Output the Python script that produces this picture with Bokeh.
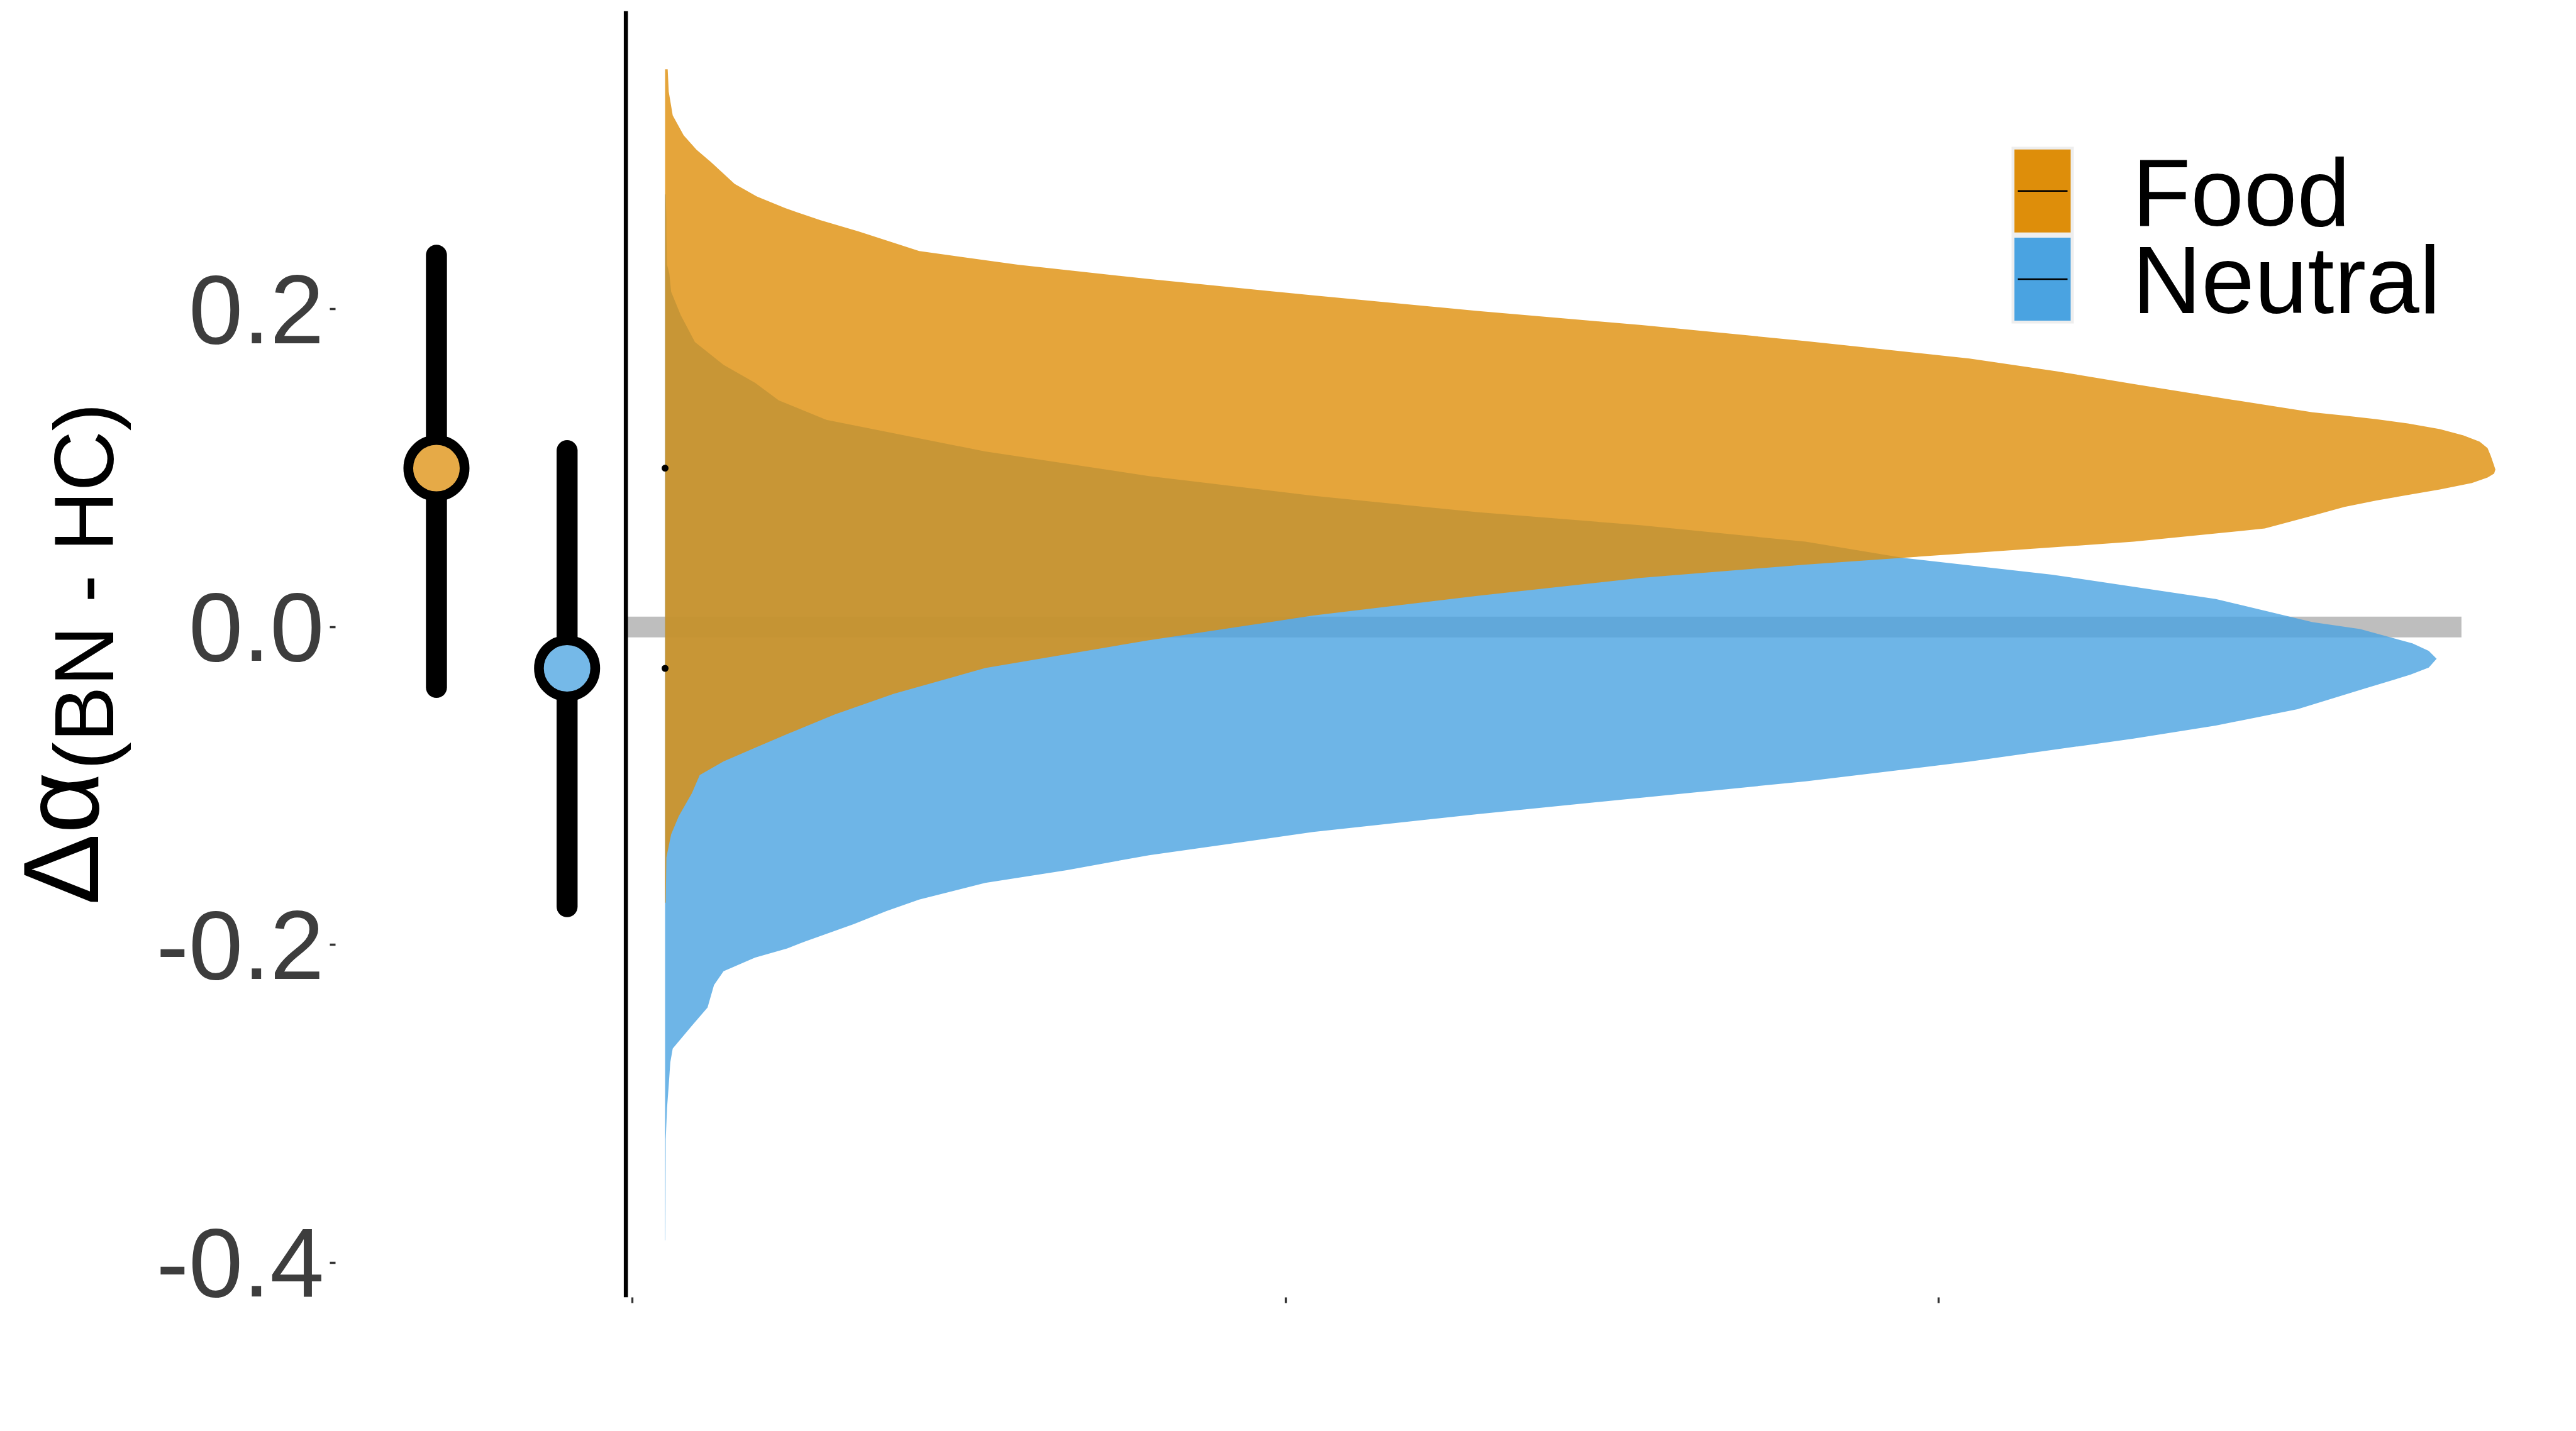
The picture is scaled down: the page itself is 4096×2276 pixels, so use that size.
import numpy as np
from bokeh.plotting import figure
from bokeh.layouts import row
from bokeh.models import (Range1d, FixedTicker, PrintfTickFormatter, CustomJSTickFormatter,
                          Span, Label, BoxAnnotation)
from bokeh.embed import file_html
from bokeh.resources import INLINE

# ---------------- data ----------------
groups = ["Food", "Neutral"]
group_pos = [-0.3, -0.1]
group_mean = [0.100, -0.026]
ci_lower = [-0.038, -0.176]
ci_upper = [0.234, 0.111]

density_base = 0.05
food_y = [0.351, 0.337, 0.322, 0.3095, 0.3004, 0.2927, 0.2789, 0.271, 0.2636, 0.256, 0.249,
          0.2366, 0.228, 0.219, 0.2087, 0.199, 0.190, 0.180, 0.169, 0.161, 0.153, 0.143,
          0.1351, 0.1331, 0.1308, 0.1281, 0.1246, 0.1206, 0.1166, 0.1126, 0.1076, 0.1016,
          0.0991, 0.0966, 0.0941, 0.0906, 0.0866, 0.0831, 0.0796, 0.0756, 0.0701, 0.062,
          0.0537, 0.0465, 0.0393, 0.031, 0.0196, 0.0072, -0.0083, -0.0258, -0.042, -0.055,
          -0.0674, -0.076, -0.0846, -0.0932, -0.1046, -0.119, -0.1305, -0.145, -0.1735]
food_w = [0.004, 0.0056, 0.0117, 0.0285, 0.048, 0.070, 0.1065, 0.1405, 0.184, 0.238, 0.296,
          0.389, 0.540, 0.741, 0.992, 1.243, 1.495, 1.746, 1.997, 2.130, 2.248, 2.400,
          2.522, 2.571, 2.620, 2.668, 2.717, 2.753, 2.778, 2.790, 2.795, 2.800,
          2.802, 2.800, 2.790, 2.766, 2.717, 2.668, 2.620, 2.571, 2.522, 2.449,
          2.248, 1.997, 1.746, 1.495, 1.243, 0.992, 0.741, 0.490, 0.35, 0.26,
          0.187, 0.138, 0.0895, 0.053, 0.041, 0.021, 0.0093, 0.002, 0.001]
neutral_y = [0.2723, 0.257, 0.248, 0.228, 0.2223, 0.211, 0.1963, 0.1794, 0.165, 0.1536, 0.1427,
             0.1304, 0.1105, 0.095, 0.0826, 0.0723, 0.064, 0.0537, 0.0434, 0.033, 0.0176,
             0.0031, -0.0013, -0.0103, -0.0150, -0.0200, -0.0255, -0.030, -0.039, -0.0517,
             -0.062, -0.0702, -0.0847, -0.0971, -0.1074, -0.1178, -0.129, -0.1436, -0.153,
             -0.161, -0.1715, -0.1787, -0.187, -0.198, -0.2023, -0.208, -0.2166, -0.2253,
             -0.2395, -0.251, -0.2653, -0.274, -0.2884, -0.3027, -0.3226, -0.386]
neutral_w = [0.001, 0.002, 0.002, 0.003, 0.0066, 0.0093, 0.024, 0.0457, 0.0895, 0.138, 0.174,
             0.247, 0.490, 0.741, 0.992, 1.243, 1.495, 1.746, 1.897, 2.123, 2.374,
             2.522, 2.595, 2.675, 2.700, 2.712, 2.700, 2.672, 2.600, 2.499,
             2.374, 2.248, 1.997, 1.746, 1.495, 1.243, 0.992, 0.741, 0.615,
             0.490, 0.389, 0.339, 0.289, 0.2135, 0.187, 0.138, 0.0895, 0.0749,
             0.065, 0.041, 0.0117, 0.008, 0.0056, 0.003, 0.001, 0.0005]

zero_line_y = 0.0
zero_line_x = [-0.01, 2.80]
vline_x = -0.01
x_ticks = [0, 1, 2]
y_ticks = [-0.4, -0.2, 0.0, 0.2]

# ---------------- styles / layout ----------------
key_colors = {"Food": "#DE8E0A", "Neutral": "#4AA3E1"}
point_colors = ["#E6AA47", "#75B9E8"]
FONT = "Liberation Sans"
MID = 0.35  # label box centre -> baseline offset (em)

W, H = 4096, 2276
TW = 240                         # width of the y-title strip
FL, FR, FT, FB = 533, 4076, 17, 2063  # frame edges in window px


def sx(X):
    return X - FL


def sy(Y):
    return FB - Y


# ---- y-axis title strip (frames in a row share top/bottom borders) ----
tfig = figure(width=TW, height=H, output_backend="svg", toolbar_location=None,
              x_range=Range1d(0, TW), y_range=Range1d(0, H),
              x_axis_location=None, y_axis_location=None,
              min_border_left=0, min_border_right=0, min_border_top=0, min_border_bottom=0)
tfig.outline_line_color = None
tfig.background_fill_color = "white"
tfig.border_fill_color = "white"
tfig.grid.visible = False
MAIN_FS, SUB_FS = 170, 133
tfig.add_layout(Label(x=156 - MID * MAIN_FS, y=sy(1439), x_units="screen", y_units="screen",
                      text="Δα", angle=np.pi / 2, text_font=FONT,
                      text_font_size=f"{MAIN_FS}px",
                      text_color="black", text_align="left", text_baseline="middle"))
tfig.add_layout(Label(x=180 - MID * SUB_FS, y=sy(1224), x_units="screen", y_units="screen",
                      text="(BN - HC)", angle=np.pi / 2, text_font=FONT,
                      text_font_size=f"{SUB_FS}px",
                      text_color="black", text_align="left", text_baseline="middle"))

# ---- main panel ----
p = figure(width=W - TW, height=H, output_backend="svg", toolbar_location=None,
           x_range=Range1d(-0.4545, 2.9566), y_range=Range1d(-0.4219, 0.3877),
           min_border_left=FL - TW, min_border_right=W - FR,
           min_border_top=FT, min_border_bottom=H - FB)
p.outline_line_color = None
p.background_fill_color = "white"
p.border_fill_color = "white"
p.xgrid.visible = False
p.ygrid.visible = False

p.yaxis.ticker = FixedTicker(ticks=y_ticks)
p.yaxis.formatter = PrintfTickFormatter(format="%.1f")
p.yaxis.axis_line_color = None
p.yaxis.major_tick_line_color = "#333333"
p.yaxis.major_tick_line_width = 3.3
p.yaxis.major_tick_out = 9
p.yaxis.major_tick_in = 0
p.yaxis.minor_tick_line_color = None
p.yaxis.major_label_text_font = FONT
p.yaxis.major_label_text_font_size = "155px"
p.yaxis.major_label_text_color = "#3d3d3d"
p.yaxis.major_label_standoff = 9

p.xaxis.ticker = FixedTicker(ticks=x_ticks)
p.xaxis.formatter = CustomJSTickFormatter(code="return ''")
p.xaxis.axis_line_color = None
p.xaxis.major_tick_line_color = "#333333"
p.xaxis.major_tick_line_width = 3.3
p.xaxis.major_tick_out = 9
p.xaxis.major_tick_in = 0
p.xaxis.minor_tick_line_color = None

# zero reference line (behind densities)
p.segment(x0=[zero_line_x[0]], y0=[zero_line_y], x1=[zero_line_x[1]], y1=[zero_line_y],
          line_color="#BEBEBE", line_width=33)

# densities (neutral below, food on top)
for name, ys, ws in [("Neutral", neutral_y, neutral_w), ("Food", food_y, food_w)]:
    px = [density_base + w for w in ws] + [density_base, density_base]
    py = list(ys) + [ys[-1], ys[0]]
    p.patch(px, py, fill_color=key_colors[name], fill_alpha=0.8, line_color=None)

# small mean markers at density baseline
p.scatter([density_base] * len(group_mean), group_mean, size=11, marker="circle",
          fill_color="black", line_color=None)

# vertical line
p.add_layout(Span(location=vline_x, dimension="height", line_color="black", line_width=6.6))

# error bars and means
p.segment(x0=group_pos, y0=ci_lower, x1=group_pos, y1=ci_upper,
          line_color="black", line_width=33.4, line_cap="round")
p.scatter(group_pos, group_mean, size=89.5, marker="circle",
          fill_color=point_colors, line_color="black", line_width=15.5)


# legend (drawn manually to match key style)
def sbox(l, r, t, b, color):
    return BoxAnnotation(left=sx(l), right=sx(r), top=sy(t), bottom=sy(b),
                         left_units="screen", right_units="screen",
                         top_units="screen", bottom_units="screen",
                         fill_color=color, fill_alpha=1.0, line_color=None)


p.add_layout(sbox(3198, 3297, 233, 514, "#EEEEEE"))
key_tops = [237.3, 377.5]
key_h = 131.9
label_baselines = [358.5, 498.0]
for i, name in enumerate(groups):
    t = key_tops[i]
    p.add_layout(sbox(3202.6, 3292, t, t + key_h, key_colors[name]))
    mid = t + key_h / 2
    p.add_layout(sbox(3208, 3287, mid - 1.3, mid + 1.3, "black"))
    p.add_layout(Label(x=sx(3390), y=sy(label_baselines[i] - MID * 152),
                       x_units="screen", y_units="screen",
                       text=name, text_font=FONT, text_font_size="152px", text_color="black",
                       text_align="left", text_baseline="middle"))

layout = row(tfig, p)
open("out.html", "w").write(file_html(layout, INLINE))
